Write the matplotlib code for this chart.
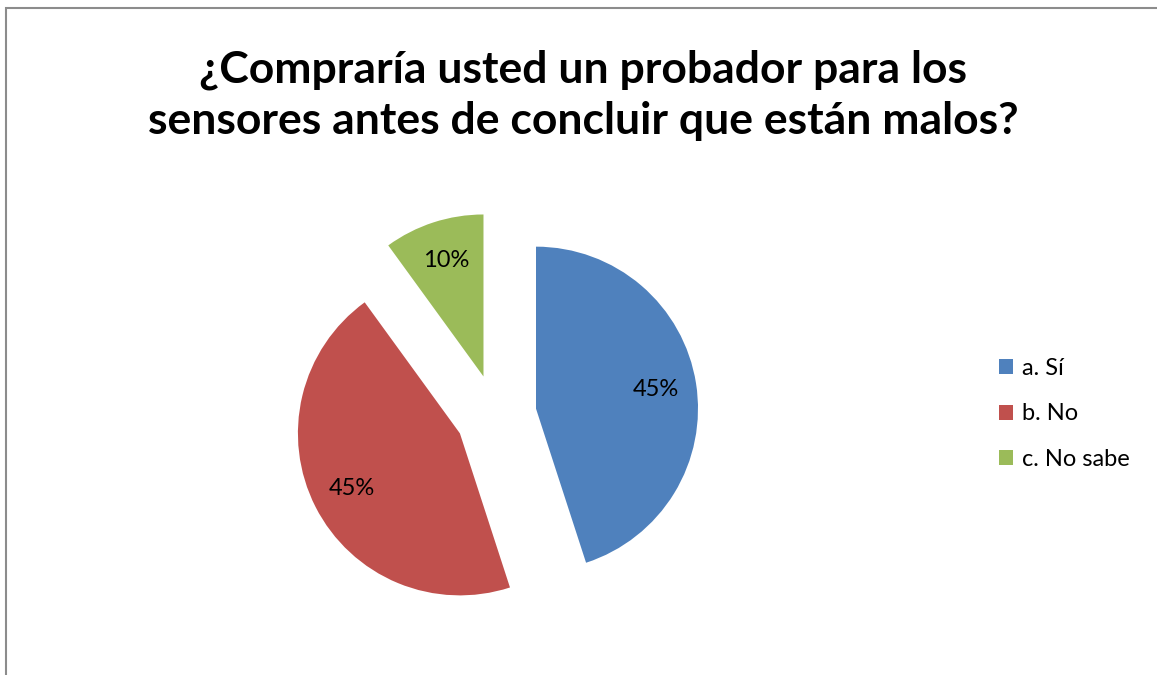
import matplotlib.pyplot as plt
from matplotlib.patches import Rectangle

plt.rcParams['font.family'] = ['Lato', 'DejaVu Sans']

etiquetas = ["a. Sí", "b. No", "c. No sabe"]
valores = [45, 45, 10]
colores = ["#4F81BD", "#C0504D", "#9BBB59"]
separacion = [0.25, 0.25, 0.25]

W, H = 1157, 675
fig = plt.figure(figsize=(W / 100, H / 100), dpi=100)

# marco gris del area del grafico
fig.patches.append(Rectangle((6 / W, -0.05), 1.2, 1 - 8 / H + 0.05,
                             transform=fig.transFigure, fill=False,
                             edgecolor="#8c8c8c", linewidth=1.5))

# ejes colocados en pixeles: centro del pie en (496, 415), radio 162 px
cx, cy, r = 496, H - 415, 162
ax = fig.add_axes([(cx - 400) / W, (cy - 250) / H, 800 / W, 500 / H])
cunas, textos, pcts = ax.pie(valores, colors=colores, explode=separacion,
                             startangle=90, counterclock=False,
                             autopct="%1.0f%%", pctdistance=0.75,
                             textprops={"fontsize": 17})
ax.set_xlim(-400 / r, 400 / r)
ax.set_ylim(-250 / r, 250 / r)
ax.set_aspect("auto")
ax.axis("off")

fig.text(0.504, 1 - 95 / H, "¿Compraría usted un probador para los\nsensores antes de concluir que están malos?",
         ha="center", va="center", fontsize=32, fontweight="bold",
         linespacing=1.32)

fig.legend(cunas, etiquetas, loc="center left",
           bbox_to_anchor=(978 / W, 1 - 414 / H), frameon=False,
           fontsize=17, handlelength=0.6, handleheight=0.6,
           handletextpad=0.35, labelspacing=1.05)

fig.savefig("out.png", dpi=100)
